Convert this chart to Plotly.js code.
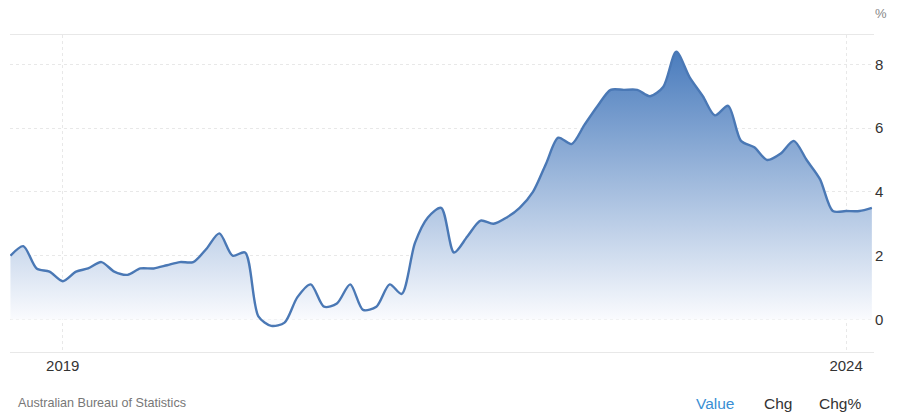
<!DOCTYPE html>
<html>
<head>
<meta charset="utf-8">
<script src="https://cdn.plot.ly/plotly-3.0.1.min.js"></script>
<style>
  html, body { margin: 0; padding: 0; background: #fff; }
  #chart { width: 900px; height: 418px; }
</style>
</head>
<body>
<div id="chart"></div>
<script>
// monthly annual change, Sep 2018 .. Mar 2024
const startYear = 2018;
const startMonth = 9;
const values = [
  2.0, 2.3, 1.6, 1.5,
  1.2, 1.5, 1.6, 1.8, 1.5, 1.4, 1.6, 1.6, 1.7, 1.8, 1.8, 2.2,
  2.7, 2.0, 2.1, 0.1, -0.2, -0.1, 0.7, 1.1, 0.4, 0.5, 1.1, 0.3,
  0.4, 1.1, 0.8, 2.4, 3.2, 3.5, 2.1, 2.6, 3.1, 3.0, 3.2, 3.5,
  4.0, 4.9, 5.7, 5.5, 6.1, 6.7, 7.2, 7.2, 7.2, 7.0, 7.3, 8.4,
  7.6, 7.0, 6.4, 6.7, 5.6, 5.4, 5.0, 5.2, 5.6, 5.0, 4.4, 3.4,
  3.4, 3.4, 3.5
];
const tickDates = ["2019-01-01", "2024-01-01"];
const tickLabels = ["2019", "2024"];
const yTicks = [0, 2, 4, 6, 8];

function monthDates(n) {
  const out = [];
  for (let i = 0; i < n; i++) {
    const m = startMonth - 1 + i;
    const y = startYear + Math.floor(m / 12);
    const mm = (m % 12) + 1;
    out.push(y + "-" + String(mm).padStart(2, "0") + "-01");
  }
  return out;
}

const dates = monthDates(values.length);
const font = "Liberation Sans, Arial, sans-serif";

const data = [{
  x: dates,
  y: values,
  type: "scatter",
  mode: "lines",
  line: { color: "#4a78b5", width: 2.4, shape: "spline", smoothing: 0.8 },
  fill: "tozeroy",
  fillgradient: {
    type: "vertical",
    start: 0,
    stop: 8.4,
    colorscale: [[0, "rgba(250,251,254,1)"], [1, "#4a7cbd"]]
  },
  hoverinfo: "skip"
}];

// bottom text row sits at y = 403px, plot area is 10..874 x 35..352
const footY = -0.161;
function note(text, x, size, color, anchor) {
  return {
    text: text, xref: "paper", yref: "paper", x: x, y: footY,
    xanchor: anchor || "center", yanchor: "middle",
    showarrow: false, font: { size: size, color: color }
  };
}

const layout = {
  width: 900,
  height: 418,
  paper_bgcolor: "#fff",
  plot_bgcolor: "#fff",
  margin: { l: 10, r: 26, t: 35, b: 66 },
  showlegend: false,
  font: { family: font, color: "#333", size: 14 },
  xaxis: {
    type: "date",
    range: ["2018-08-31", "2024-03-06"],
    tickvals: tickDates,
    ticktext: tickLabels,
    showgrid: true,
    gridcolor: "#e8e8e8",
    griddash: "dot",
    showline: true,
    mirror: true,
    linecolor: "#e8e8e8",
    linewidth: 1,
    zeroline: false,
    ticks: "",
    tickfont: { size: 15, color: "#333" }
  },
  yaxis: {
    side: "right",
    range: [-1.02, 8.92],
    tickvals: yTicks,
    showgrid: true,
    gridcolor: "#e8e8e8",
    griddash: "dot",
    zeroline: false,
    showline: false,
    ticks: "",
    tickfont: { size: 15, color: "#333" }
  },
  annotations: [
    { text: "%", xref: "paper", yref: "paper", x: 1.008, y: 1.069,
      xanchor: "center", yanchor: "middle",
      showarrow: false, font: { size: 13, color: "#888" } },
    note("Australian Bureau of Statistics", 0.0069, 12.6, "#777", "left"),
    note("Value", 0.817, 15.5, "#3a8fd4"),
    note("Chg", 0.889, 15.5, "#333"),
    note("Chg%", 0.961, 15.5, "#333")
  ]
};

Plotly.newPlot("chart", data, layout, { displayModeBar: false, staticPlot: true });
</script>
</body>
</html>
